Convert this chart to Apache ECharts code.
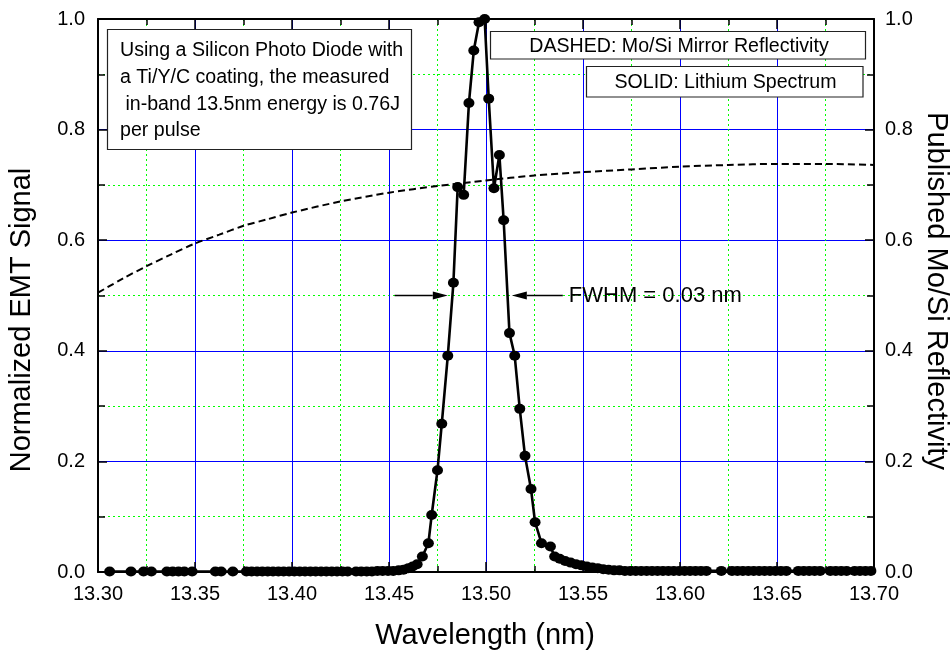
<!DOCTYPE html>
<html>
<head>
<meta charset="utf-8">
<title>Lithium EUV spectrum</title>
<script src="https://cdn.jsdelivr.net/npm/echarts@6/dist/echarts.min.js"></script>
<style>
  html, body { margin: 0; padding: 0; background: #fff; }
  #chart { width: 950px; height: 656px; }
</style>
</head>
<body>
<div id="chart"></div>
<script>
// Measured lithium spectrum (solid line with dots), normalized EMT signal
const emtWavelength = [
  13.306, 13.317, 13.3235, 13.3275, 13.3355, 13.3385, 13.3415, 13.3445, 13.3485,
  13.3605, 13.3635, 13.3695,
  13.3765, 13.3792, 13.3820, 13.3847, 13.3875, 13.3902, 13.3930, 13.3957, 13.3985,
  13.4012, 13.4040, 13.4067, 13.4095, 13.4122, 13.4150, 13.4177, 13.4205, 13.4232,
  13.4260, 13.4287, 13.4330, 13.4357, 13.4385, 13.4412, 13.4440, 13.4467, 13.4495,
  13.4522, 13.4550, 13.4575, 13.4600, 13.4622, 13.4645, 13.4672, 13.4703, 13.4720,
  13.4750, 13.4772, 13.4803, 13.4832, 13.4854, 13.4885, 13.4912, 13.4937, 13.4964,
  13.4993, 13.5014, 13.5041, 13.5069, 13.5091, 13.5121, 13.5148, 13.5174, 13.5201,
  13.5232, 13.5253, 13.5286, 13.5332, 13.5354, 13.5380, 13.5408, 13.5436, 13.5464,
  13.5492, 13.5520, 13.5548, 13.5576, 13.5604, 13.5632, 13.5660, 13.5688, 13.5716,
  13.5744, 13.5772, 13.5800, 13.5828, 13.5856, 13.5884, 13.5912, 13.5940, 13.5968,
  13.5996, 13.6024, 13.6052, 13.6080, 13.6108, 13.6136, 13.6213, 13.6268, 13.6296,
  13.6324, 13.6352, 13.6380, 13.6408, 13.6436, 13.6464, 13.6492, 13.6520, 13.6548,
  13.6610, 13.6638, 13.6666, 13.6694, 13.6722, 13.6775, 13.6803, 13.6831, 13.6859,
  13.6900, 13.6928, 13.6956, 13.6984
];
const emtSignal = [
  0.001, 0.001, 0.001, 0.001, 0.001, 0.001, 0.001, 0.001, 0.001,
  0.001, 0.001, 0.001,
  0.001, 0.001, 0.001, 0.001, 0.001, 0.001, 0.001, 0.001, 0.001,
  0.001, 0.001, 0.001, 0.001, 0.001, 0.001, 0.001, 0.001, 0.001,
  0.001, 0.001, 0.001, 0.001, 0.001, 0.001, 0.002, 0.002, 0.002,
  0.002, 0.003, 0.004, 0.007, 0.010, 0.014, 0.028, 0.052, 0.103,
  0.184, 0.268, 0.391, 0.523, 0.696, 0.682, 0.848, 0.943, 0.994,
  1.000, 0.856, 0.694, 0.754, 0.636, 0.432, 0.391, 0.295, 0.210,
  0.150, 0.090, 0.052, 0.046, 0.028, 0.024, 0.020, 0.017, 0.014,
  0.012, 0.010, 0.008, 0.007, 0.005, 0.004, 0.003, 0.003, 0.002,
  0.002, 0.002, 0.002, 0.002, 0.002, 0.002, 0.002, 0.002, 0.002,
  0.002, 0.002, 0.002, 0.002, 0.002, 0.002, 0.002, 0.002, 0.002,
  0.002, 0.002, 0.002, 0.002, 0.002, 0.002, 0.002, 0.002, 0.002,
  0.002, 0.002, 0.002, 0.002, 0.002, 0.002, 0.002, 0.002, 0.002,
  0.002, 0.002, 0.002, 0.002
];

// Published Mo/Si multilayer mirror reflectivity (dashed line)
const mirrorWavelength = [
  13.300, 13.3125, 13.325, 13.3375, 13.350, 13.3625, 13.375, 13.3875, 13.400,
  13.425, 13.450, 13.475, 13.500, 13.525, 13.550, 13.575, 13.600, 13.625,
  13.650, 13.675, 13.700
];
const mirrorReflectivity = [
  0.505, 0.530, 0.553, 0.574, 0.594, 0.610, 0.626, 0.638, 0.650,
  0.670, 0.686, 0.698, 0.708, 0.717, 0.723, 0.728, 0.733, 0.736,
  0.738, 0.738, 0.736
];

// Tick values / labels
const xTicks = ['13.30', '13.35', '13.40', '13.45', '13.50', '13.55', '13.60', '13.65', '13.70'];
const yTicks = ['0.0', '0.2', '0.4', '0.6', '0.8', '1.0'];

// Full-width-at-half-maximum markers
const halfMax = 0.5;
const fwhmEdges = [13.4803, 13.5133];
const fwhmArrowTails = [13.4529, 13.5396];
const fwhmText = 'FWHM = 0.03 nm';

const FONT = '"Liberation Sans", Arial, Helvetica, sans-serif';

const chart = echarts.init(document.getElementById('chart'), null, { renderer: 'canvas' });

const xMin = parseFloat(xTicks[0]), xMax = parseFloat(xTicks[xTicks.length - 1]);
const yMin = parseFloat(yTicks[0]), yMax = parseFloat(yTicks[yTicks.length - 1]);

function xAxisBase(position, showLabels) {
  return {
    type: 'value', position: position, min: xMin, max: xMax, interval: 0.05,
    axisLine: { show: true, onZero: false, lineStyle: { color: '#000', width: 2 } },
    axisTick: { show: true, inside: true, length: 10, lineStyle: { color: '#000', width: 1.5 } },
    minorTick: { show: true, splitNumber: 2, length: 6, lineStyle: { color: '#000', width: 1.5 } },
    axisLabel: {
      show: showLabels, margin: 12, fontSize: 20, fontFamily: FONT, color: '#000',
      formatter: v => v.toFixed(2)
    },
    splitLine: { show: false },
    minorSplitLine: { show: false }
  };
}
function yAxisBase(position, grid) {
  return {
    type: 'value', position: position, min: yMin, max: yMax, interval: 0.2,
    axisLine: { show: true, onZero: false, lineStyle: { color: '#000', width: 2 } },
    axisTick: { show: true, inside: true, length: 9, lineStyle: { color: '#000', width: 1.5 } },
    minorTick: { show: true, splitNumber: 2, length: 7, lineStyle: { color: '#000', width: 1.5 } },
    axisLabel: {
      show: true, margin: position === 'left' ? 13 : 11, fontSize: 20, fontFamily: FONT, color: '#000',
      formatter: v => v.toFixed(1)
    },
    splitLine: { show: grid, lineStyle: { color: '#0000ff', width: 1 } },
    minorSplitLine: { show: grid, lineStyle: { color: '#00ff00', width: 1, type: [2, 3] } }
  };
}

const xBottom = xAxisBase('bottom', true);
xBottom.splitLine = { show: true, lineStyle: { color: '#0000ff', width: 1 } };
xBottom.minorSplitLine = { show: true, lineStyle: { color: '#00ff00', width: 1, type: [2, 3] } };

const option = {
  animation: false,
  backgroundColor: '#fff',
  grid: { left: 98, right: 76, top: 19, bottom: 84, containLabel: false },
  xAxis: [xBottom, xAxisBase('top', false)],
  yAxis: [yAxisBase('left', true), yAxisBase('right', false)],
  series: [
    {
      name: 'Mo/Si Mirror Reflectivity',
      type: 'line', xAxisIndex: 0, yAxisIndex: 1,
      data: mirrorWavelength.map((w, i) => [w, mirrorReflectivity[i]]),
      showSymbol: false, smooth: 0.3,
      lineStyle: { color: '#000', width: 2, type: [7, 4] },
      z: 3
    },
    {
      name: 'Lithium Spectrum',
      type: 'line', xAxisIndex: 0, yAxisIndex: 0,
      data: emtWavelength.map((w, i) => [w, emtSignal[i]]),
      symbol: 'circle', symbolSize: [11, 10], showSymbol: true, showAllSymbol: true,
      itemStyle: { color: '#000' },
      lineStyle: { color: '#000', width: 2.6 },
      clip: false,
      z: 4
    }
  ]
};

chart.setOption(option);

// Annotations: boxes, FWHM arrows and axis titles
function arrow(tailX, tipX, y) {
  const dir = tipX > tailX ? 1 : -1;
  const headLen = 15, headHalf = 4;
  return [
    { type: 'line', z: 10, shape: { x1: tailX, y1: y, x2: tipX - dir * headLen, y2: y },
      style: { stroke: '#000', lineWidth: 1.5 } },
    { type: 'polygon', z: 10, shape: { points: [[tipX, y], [tipX - dir * headLen, y - headHalf], [tipX - dir * headLen, y + headHalf]] },
      style: { fill: '#000' } }
  ];
}

const p = (x, y) => chart.convertToPixel({ xAxisIndex: 0, yAxisIndex: 0 }, [x, y]);
const leftTip = p(fwhmEdges[0], halfMax), leftTail = p(fwhmArrowTails[0], halfMax);
const rightTip = p(fwhmEdges[1], halfMax), rightTail = p(fwhmArrowTails[1], halfMax);

const textStyle = (extra) => Object.assign({ fill: '#000', fontFamily: FONT, fontSize: 19.6 }, extra);

const graphic = [
  // Note box
  { type: 'rect', z: 10, shape: { x: 107.5, y: 29.5, width: 304, height: 120 },
    style: { fill: '#fff', stroke: '#222', lineWidth: 1.2 } },
  { type: 'text', z: 11, x: 120, y: 37.5,
    style: textStyle({
      text: 'Using a Silicon Photo Diode with\na Ti/Y/C coating, the measured\n in-band 13.5nm energy is 0.76J\nper pulse',
      lineHeight: 26.7, textVerticalAlign: 'top', textAlign: 'left'
    }) },
  // Legend boxes
  { type: 'rect', z: 10, shape: { x: 490.5, y: 31.5, width: 375, height: 27.5 },
    style: { fill: '#fff', stroke: '#222', lineWidth: 1.2 } },
  { type: 'text', z: 11, x: 679, y: 46.5,
    style: textStyle({ text: 'DASHED: Mo/Si Mirror Reflectivity', textAlign: 'center', textVerticalAlign: 'middle' }) },
  { type: 'rect', z: 10, shape: { x: 586.5, y: 66.5, width: 276.5, height: 30.5 },
    style: { fill: '#fff', stroke: '#222', lineWidth: 1.2 } },
  { type: 'text', z: 11, x: 725.5, y: 82.5,
    style: textStyle({ text: 'SOLID: Lithium Spectrum', textAlign: 'center', textVerticalAlign: 'middle' }) },
  // FWHM label
  { type: 'text', z: 11, x: rightTail[0] + 6, y: rightTail[1],
    style: textStyle({ text: fwhmText, fontSize: 22, textAlign: 'left', textVerticalAlign: 'middle' }) },
  // Axis titles
  { type: 'text', z: 11, x: 485, y: 636,
    style: textStyle({ text: 'Wavelength (nm)', fontSize: 29, textAlign: 'center', textVerticalAlign: 'middle' }) },
  { type: 'text', z: 11, x: 22, y: 320, rotation: Math.PI / 2,
    style: textStyle({ text: 'Normalized EMT Signal', fontSize: 29, textAlign: 'center', textVerticalAlign: 'middle' }) },
  { type: 'text', z: 11, x: 936, y: 291, rotation: -Math.PI / 2,
    style: textStyle({ text: 'Published Mo/Si Reflectivity', fontSize: 29, textAlign: 'center', textVerticalAlign: 'middle' }) }
].concat(arrow(leftTail[0], leftTip[0], leftTip[1]), arrow(rightTail[0], rightTip[0], rightTip[1]));

chart.setOption({ graphic: graphic });
</script>
</body>
</html>
